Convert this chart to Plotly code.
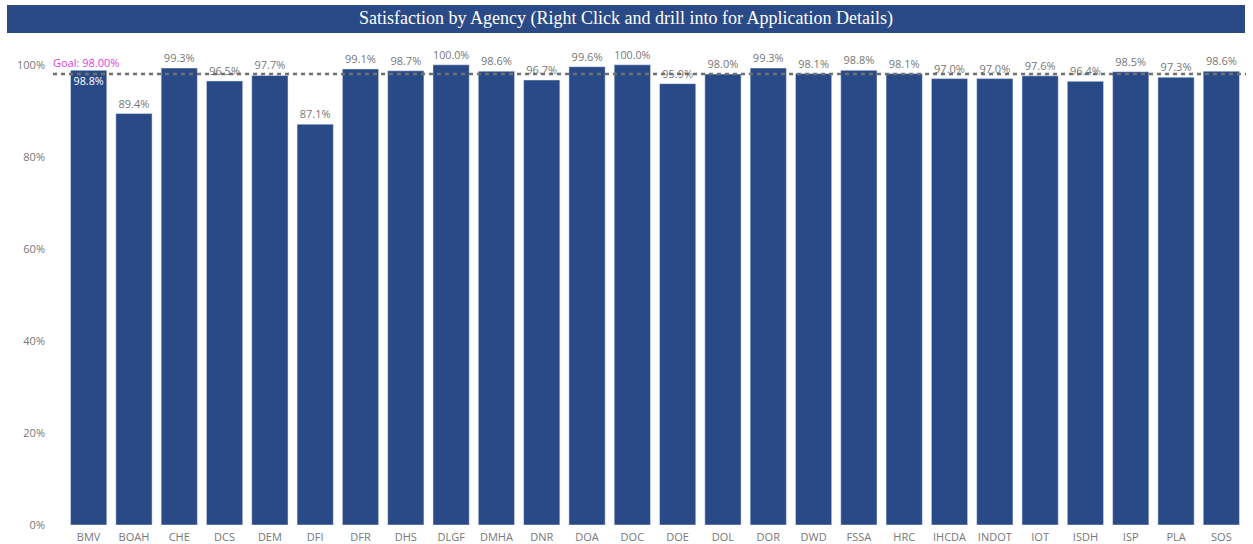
import plotly.graph_objects as go

agencies = ["BMV", "BOAH", "CHE", "DCS", "DEM", "DFI", "DFR", "DHS", "DLGF", "DMHA",
            "DNR", "DOA", "DOC", "DOE", "DOL", "DOR", "DWD", "FSSA", "HRC", "IHCDA",
            "INDOT", "IOT", "ISDH", "ISP", "PLA", "SOS"]
satisfaction = [0.988, 0.894, 0.993, 0.965, 0.977, 0.871, 0.991, 0.987, 1.000, 0.986,
                0.967, 0.996, 1.000, 0.959, 0.980, 0.993, 0.981, 0.988, 0.981, 0.970,
                0.970, 0.976, 0.964, 0.985, 0.973, 0.986]
goal = 0.98
y_ticks = [0, 0.2, 0.4, 0.6, 0.8, 1.0]
y_tick_labels = ["0%", "20%", "40%", "60%", "80%", "100%"]

W, H = 1253, 544
L, R, T, B = 66, 9, 51, 19
pw, ph = W - L - R, H - T - B

def px(x):
    return (x - L) / pw

def py(y):
    return (H - B - y) / ph

bar_color = "#2a4a87"
positions = ["inside" if i == 0 else "outside" for i in range(len(agencies))]
text_colors = ["white" if i == 0 else "#777777" for i in range(len(agencies))]

fig = go.Figure(go.Bar(
    x=agencies, y=satisfaction,
    marker=dict(color=bar_color),
    texttemplate="%{y:.1%}",
    textposition=positions,
    insidetextanchor="end",
    textangle=0,
    textfont=dict(color=text_colors, size=11, family="Open Sans"),
    cliponaxis=False,
))

fig.update_layout(
    width=W, height=H,
    margin=dict(l=L, r=R, t=T, b=B),
    paper_bgcolor="white", plot_bgcolor="white",
    bargap=0.2,
    showlegend=False,
    font=dict(family="Open Sans", color="#777777", size=11),
    xaxis=dict(showgrid=False, showline=False, zeroline=False, ticks="",
               automargin=False, ticklabelstandoff=4,
               tickfont=dict(size=11, color="#777777")),
    yaxis=dict(range=[0, 1.03], tickvals=y_ticks, ticktext=y_tick_labels,
               showgrid=False, zeroline=False, showline=False, automargin=False,
               ticklabelstandoff=20,
               tickfont=dict(size=11, color="#777777")),
    shapes=[
        dict(type="rect", xref="paper", yref="paper",
             x0=px(7), x1=px(1245), y0=py(33), y1=py(5),
             fillcolor=bar_color, line=dict(width=0), layer="below"),
        dict(type="line", xref="paper", yref="y", x0=px(53), x1=px(1246), y0=goal, y1=goal,
             line=dict(color="#707070", width=2.5, dash="4px,4px"), layer="above"),
    ],
    annotations=[
        dict(text="Satisfaction by Agency (Right Click and drill into for Application Details)",
             xref="paper", yref="paper", x=px(626), y=py(19), showarrow=False,
             font=dict(family="Liberation Serif", size=18, color="white"),
             xanchor="center", yanchor="middle"),
        dict(text=f"Goal: {goal:.2%}", xref="paper", yref="y", x=px(51), y=goal,
             xanchor="left", yanchor="bottom", showarrow=False, yshift=2,
             font=dict(family="Open Sans", size=11, color="#e040e0")),
    ],
)

fig.write_html("out.html")
